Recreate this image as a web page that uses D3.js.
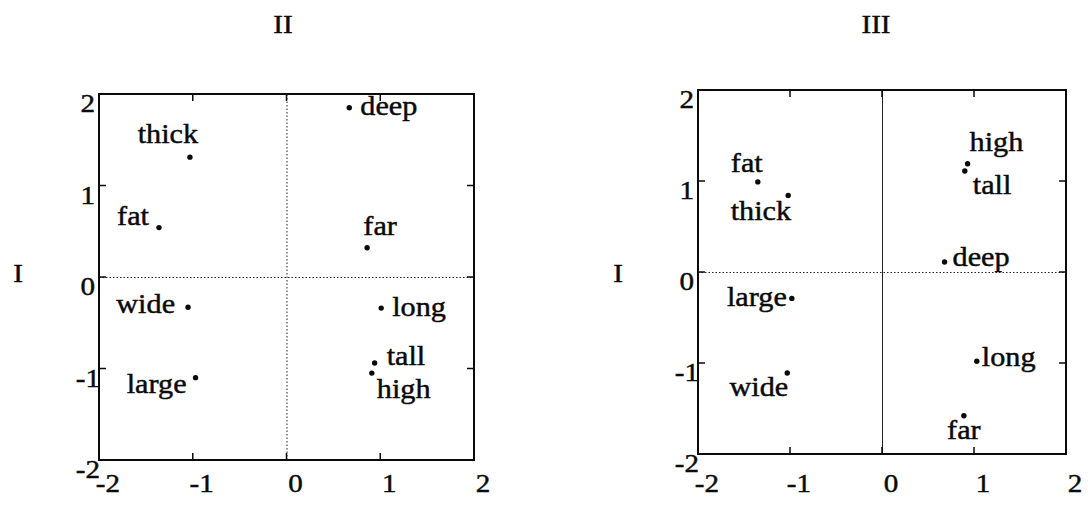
<!DOCTYPE html>
<html><head><meta charset="utf-8">
<script src="https://cdn.jsdelivr.net/npm/d3@7"></script>
<style>body{margin:0;background:#fff}svg{display:block}</style></head>
<body><svg id="chart" width="1088" height="505"></svg>
<script>
// Axis ticks shared by both panels
const tickValues = [-2, -1, 0, 1, 2];
const innerTicks = [-1, 0, 1];

// Panel "II" (horizontal) against "I" (vertical)
const wordsII = ["thick", "fat", "deep", "far", "wide", "large", "long", "tall", "high"];
const xII = [-1.03, -1.36, 0.67, 0.86, -1.05, -0.97, 1.01, 0.94, 0.91];
const yII = [1.31, 0.54, 1.85, 0.32, -0.33, -1.10, -0.34, -0.94, -1.05];

// Panel "III" (horizontal) against "I" (vertical)
const wordsIII = ["fat", "thick", "large", "wide", "high", "tall", "deep", "long", "far"];
const xIII = [-1.35, -1.02, -0.98, -1.03, 0.93, 0.90, 0.68, 1.03, 0.89];
const yIII = [0.99, 0.84, -0.29, -1.11, 1.19, 1.11, 0.11, -0.98, -1.58];

// Where each word label sits relative to its dot: [anchor, dx, dy]
const placeII = {
  thick: ["middle", -22, -14], fat: ["end", -10, -3], deep: ["start", 11, 7],
  far: ["middle", 13, -13], wide: ["end", -13, 6], large: ["end", -9, 15],
  long: ["start", 11, 8], tall: ["start", 12, 2], high: ["start", 5, 25]
};
const placeIII = {
  fat: ["middle", -11, -10], thick: ["end", 3, 24], large: ["end", -5, 8],
  wide: ["end", 1, 23], high: ["start", 2, -13], tall: ["start", 8, 23],
  deep: ["start", 8, 4], long: ["start", 5, 5], far: ["middle", 0, 23]
};

const svg = d3.select("#chart");
const FONT = "'Liberation Serif', 'Times New Roman', serif";
const STRETCH = 1.12;
const INK = "#0a0a0a";

function stretchedText(g, x, y, txt, size, anchor) {
  return g.append("text")
    .attr("transform", `translate(${x},${y}) scale(${STRETCH},1)`)
    .attr("text-anchor", anchor)
    .attr("font-family", FONT)
    .attr("font-size", size)
    .attr("fill", INK)
    .attr("stroke", INK)
    .attr("stroke-width", 0.45)
    .text(txt);
}

function panel(opts) {
  const { xr, yr, title, titleX, yLabelX, words, xs, ys, place, vDash } = opts;
  const x = d3.scaleLinear().domain([-2, 2]).range(xr);
  const y = d3.scaleLinear().domain([-2, 2]).range(yr);
  const g = svg.append("g");

  // zero reference lines
  g.append("line").attr("x1", x(-2)).attr("x2", x(2)).attr("y1", y(0) + 0.5).attr("y2", y(0) + 0.5)
    .attr("stroke", "#222").attr("stroke-width", 1).attr("stroke-dasharray", "1.5,2");
  g.append("line").attr("x1", x(0) + 0.5).attr("x2", x(0) + 0.5).attr("y1", y(-2)).attr("y2", y(2))
    .attr("stroke", "#222").attr("stroke-width", 1).attr("stroke-dasharray", vDash);

  // frame
  g.append("rect").attr("x", x(-2)).attr("y", y(2))
    .attr("width", x(2) - x(-2)).attr("height", y(-2) - y(2))
    .attr("fill", "none").attr("stroke", INK).attr("stroke-width", 2);

  // inward ticks on all four sides
  const t = 7;
  innerTicks.forEach(v => {
    g.append("line").attr("x1", x(v)).attr("x2", x(v)).attr("y1", y(-2)).attr("y2", y(-2) - t)
      .attr("stroke", INK).attr("stroke-width", 1.5);
    g.append("line").attr("x1", x(v)).attr("x2", x(v)).attr("y1", y(2)).attr("y2", y(2) + t)
      .attr("stroke", INK).attr("stroke-width", 1.5);
    g.append("line").attr("x1", x(-2)).attr("x2", x(-2) + t).attr("y1", y(v)).attr("y2", y(v))
      .attr("stroke", INK).attr("stroke-width", 1.5);
    g.append("line").attr("x1", x(2)).attr("x2", x(2) - t).attr("y1", y(v)).attr("y2", y(v))
      .attr("stroke", INK).attr("stroke-width", 1.5);
  });

  // tick labels
  tickValues.forEach(v => {
    stretchedText(g, x(v) + 9, 492, String(v), 26, "middle");
    stretchedText(g, x(-2) + (v < 0 ? 1 : -4), y(v) + 18, String(v), 26, "end");
  });

  // titles
  stretchedText(g, titleX, 33, title, 26, "middle");
  stretchedText(g, yLabelX, 282, "I", 26, "middle");

  // points and word labels
  words.forEach((w, i) => {
    const px = x(xs[i]), py = y(ys[i]);
    g.append("circle").attr("cx", px).attr("cy", py).attr("r", 2.7).attr("fill", INK);
    const [anchor, dx, dy] = place[w];
    stretchedText(g, px + dx, py + dy, w, 27, anchor);
  });
}

panel({ xr: [99, 474], yr: [460, 94], title: "II", titleX: 283, yLabelX: 18,
        words: wordsII, xs: xII, ys: yII, place: placeII, vDash: "1.5,2" });
panel({ xr: [698, 1066], yr: [454, 90], title: "III", titleX: 876, yLabelX: 618,
        words: wordsIII, xs: xIII, ys: yIII, place: placeIII, vDash: "none" });
</script>
</body></html>
